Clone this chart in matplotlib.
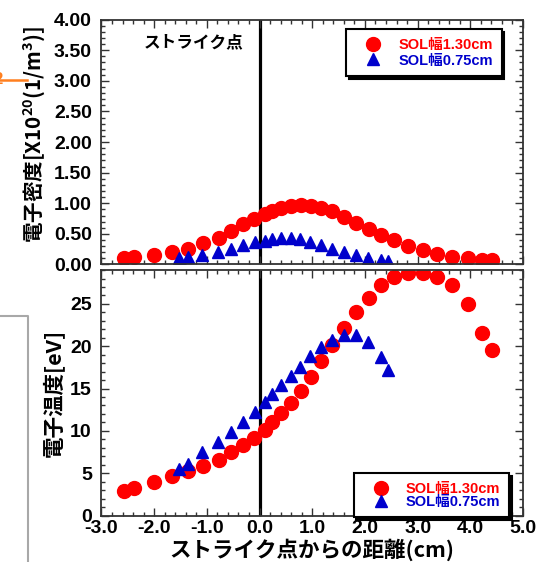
import matplotlib
matplotlib.use('Agg')
import matplotlib.pyplot as plt
from matplotlib.lines import Line2D
from matplotlib.ticker import MultipleLocator, FormatStrFormatter
from matplotlib.font_manager import FontProperties

plt.rcParams['font.family'] = ['Liberation Sans', 'Noto Sans CJK JP']
plt.rcParams['font.weight'] = 'bold'
plt.rcParams['mathtext.default'] = 'regular'
plt.rcParams['axes.unicode_minus'] = False

# SOL幅 1.30cm (red circles)
x_wide = [-2.57, -2.38, -2.01, -1.67, -1.36, -1.07, -0.77, -0.54, -0.31, -0.11,
          0.11, 0.24, 0.41, 0.60, 0.79, 0.97, 1.17, 1.38, 1.61, 1.84,
          2.07, 2.31, 2.56, 2.82, 3.10, 3.36, 3.65, 3.95, 4.22, 4.41]
ne_wide = [0.10, 0.13, 0.15, 0.21, 0.26, 0.35, 0.44, 0.55, 0.66, 0.74,
           0.82, 0.88, 0.93, 0.96, 0.97, 0.96, 0.93, 0.88, 0.78, 0.68,
           0.58, 0.48, 0.40, 0.30, 0.23, 0.17, 0.13, 0.10, 0.07, 0.07]
te_wide = [2.86, 3.26, 3.96, 4.62, 5.21, 5.88, 6.59, 7.56, 8.35, 9.14,
           10.1, 11.1, 12.1, 13.3, 14.7, 16.4, 18.2, 20.1, 22.2, 24.0,
           25.7, 27.2, 28.2, 28.7, 28.7, 28.2, 27.2, 25.0, 21.6, 19.6]

# SOL幅 0.75cm (blue triangles)
x_narrow = [-1.52, -1.36, -1.09, -0.79, -0.55, -0.31, -0.09, 0.11, 0.24, 0.41,
            0.59, 0.76, 0.95, 1.16, 1.38, 1.60, 1.84, 2.05, 2.31, 2.43]
ne_narrow = [0.10, 0.13, 0.15, 0.21, 0.26, 0.32, 0.36, 0.39, 0.41, 0.43,
             0.43, 0.41, 0.37, 0.32, 0.26, 0.21, 0.15, 0.10, 0.07, 0.06]
te_narrow = [5.49, 6.12, 7.45, 8.74, 9.92, 11.09, 12.27, 13.45, 14.4, 15.4,
             16.5, 17.6, 18.8, 19.9, 20.7, 21.3, 21.3, 20.5, 18.7, 17.2]

labels = ['SOL幅1.30cm', 'SOL幅0.75cm']
RED = '#ff0000'
BLUE = '#0000cc'
cjk = 'Noto Sans CJK JP'

fig = plt.figure(figsize=(5.39, 5.62), dpi=100)
ax1 = fig.add_axes([0.1883, 0.5294, 0.782, 0.4357])
ax2 = fig.add_axes([0.1883, 0.0827, 0.782, 0.4368])


def style(ax):
    for s in ax.spines.values():
        s.set_linewidth(1.3)
        s.set_color('#333333')
    ax.tick_params(which='both', direction='in', top=True, right=True,
                   color='#333333', labelsize=14)
    ax.tick_params(which='major', length=5.5, width=1.0)
    ax.tick_params(which='minor', length=3, width=1.0)
    ax.tick_params(axis='y', pad=7)
    ax.tick_params(axis='x', pad=3)
    ax.set_xlim(-3, 5)
    ax.xaxis.set_major_locator(MultipleLocator(1.0))
    ax.xaxis.set_minor_locator(MultipleLocator(0.2))
    ax.xaxis.set_major_formatter(FormatStrFormatter('%.1f'))
    ax.axvline(0, color='black', lw=2.3, zorder=1)


def add_legend(ax, anchor, spacing):
    handles = [Line2D([], [], ls='none', marker='o', ms=10, color=RED),
               Line2D([], [], ls='none', marker='^', ms=9, color=BLUE)]
    leg = ax.legend(handles, labels, loc='upper right', bbox_to_anchor=anchor,
                    borderaxespad=0, fancybox=False, framealpha=1,
                    edgecolor='black', shadow={'color': 'black', 'alpha': 1},
                    prop=FontProperties(family=['Liberation Sans', cjk],
                                        weight='bold', size=10.5),
                    handlelength=2.5, handletextpad=0.5, borderpad=0.6,
                    labelspacing=spacing, numpoints=1)
    leg.get_frame().set_linewidth(1.5)
    for t, c in zip(leg.get_texts(), [RED, BLUE]):
        t.set_color(c)


# electron density
style(ax1)
ax1.plot(x_wide, ne_wide, 'o', color=RED, ms=10)
ax1.plot(x_narrow, ne_narrow, '^', color=BLUE, ms=9)
ax1.set_ylim(0, 4.0)
ax1.yaxis.set_major_locator(MultipleLocator(0.5))
ax1.yaxis.set_minor_locator(MultipleLocator(0.1))
ax1.yaxis.set_major_formatter(FormatStrFormatter('%.2f'))
ax1.tick_params(axis='x', labelbottom=False)
ax1.set_ylabel('電子密度[X10$^{20}$(1/m$^{3}$)]', fontsize=14.8,
               fontfamily=cjk, fontweight='bold')
ax1.yaxis.set_label_coords(-0.127, 0.53)
ax1.text(0.218, 0.906, 'ストライク点', transform=ax1.transAxes, ha='center',
         va='center', fontsize=12, fontfamily=cjk, fontweight='bold')
add_legend(ax1, (0.9495, 0.9604), 0.1)

# electron temperature
style(ax2)
ax2.plot(x_wide, te_wide, 'o', color=RED, ms=10)
ax2.plot(x_narrow, te_narrow, '^', color=BLUE, ms=9)
ax2.set_ylim(0, 29)
ax2.yaxis.set_major_locator(MultipleLocator(5))
ax2.yaxis.set_minor_locator(MultipleLocator(1))
ax2.set_ylabel('電子温度[eV]', fontsize=15.5, fontfamily=cjk, fontweight='bold')
ax2.yaxis.set_label_coords(-0.089, 0.5)
ax2.set_xlabel('ストライク点からの距離(cm)', fontsize=15.5, fontfamily=cjk,
               fontweight='bold', labelpad=1)
add_legend(ax2, (0.9675, 0.1719), -0.1)

# leftovers at the left edge of the slide
fig.add_artist(Line2D([0.0, 0.05], [0.8577, 0.8577], color='#ff7f1e', lw=1.8))
fig.text(-0.012, 0.8577, '2', color='#ff7f1e', fontsize=12, va='center')
fig.add_artist(Line2D([0.0, 0.052, 0.052], [0.4377, 0.4377, 0.0],
                      color='#a8a8a8', lw=1.5))

fig.savefig('out.png', dpi=100)
